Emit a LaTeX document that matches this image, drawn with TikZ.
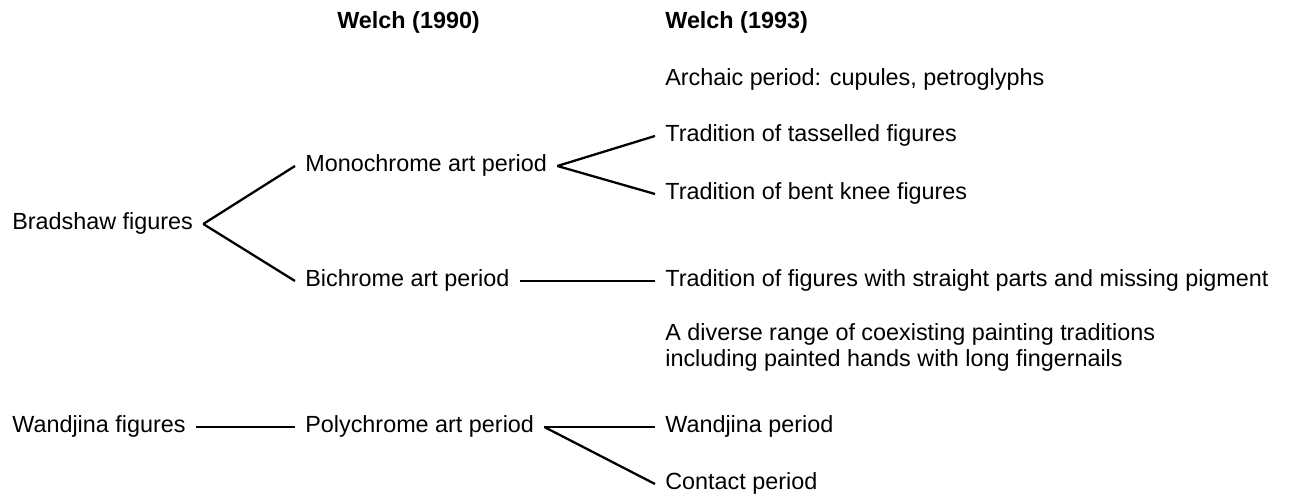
\documentclass[tikz,border=0pt]{standalone}
\usepackage{fontspec}
\setmainfont{Liberation Sans}

\begin{document}
\begin{tikzpicture}[
    item/.style={font=\fontsize{13.3}{14.8}\selectfont, inner xsep=0.2cm, inner ysep=0pt, anchor=west},
    row/.style={item, text height=0.33cm, text depth=0.09cm},
    head/.style={row, font=\fontsize{13.3}{14.8}\selectfont\bfseries},
    link/.style={line width=1.3pt}]

    \useasboundingbox (0,0) rectangle (26,9.94);

    % Column headings
    \node[head] (welch90) at (6.54, 9.48) {Welch (1990)};
    \node[head] (welch93) at (13.10, 9.48) {Welch (1993)};

    % Left column
    \node[row] (bradshaw) at (0.04, 5.46) {Bradshaw figures};
    \node[row] (wandjina) at (0.04, 1.40) {Wandjina figures};

    % Middle column
    \node[row] (mono) at (5.90, 6.62) {Monochrome art period};
    \node[row] (bichrome) at (5.90, 4.32) {Bichrome art period};
    \node[row] (poly) at (5.90, 1.40) {Polychrome art period};

    % Right column
    \node[row] (archaic) at (13.10, 8.34) {Archaic period: cupules, petroglyphs};
    \node[row] (tassel) at (13.10, 7.22) {Tradition of tasselled figures};
    \node[row] (bentknee) at (13.10, 6.06) {Tradition of bent knee figures};
    \node[row] (straight) at (13.10, 4.32) {Tradition of figures with straight parts and missing pigment};
    \node[item, align=left] (diverse) at (13.10, 3.00) {A diverse range of coexisting painting traditions\\including painted hands with long fingernails};
    \node[row] (wandjinap) at (13.10, 1.40) {Wandjina period};
    \node[row] (contact) at (13.10, 0.26) {Contact period};

    % Links
    \draw[link] (bradshaw.east) -- (mono.west);
    \draw[link] (bradshaw.east) -- (bichrome.west);
    \draw[link] (mono.east) -- (tassel.west);
    \draw[link] (mono.east) -- (bentknee.west);
    \draw[link] (bichrome.east) -- (straight.west);
    \draw[link] (wandjina.east) -- (poly.west);
    \draw[link] (poly.east) -- (wandjinap.west);
    \draw[link] (poly.east) -- (contact.west);

\end{tikzpicture}
\end{document}
